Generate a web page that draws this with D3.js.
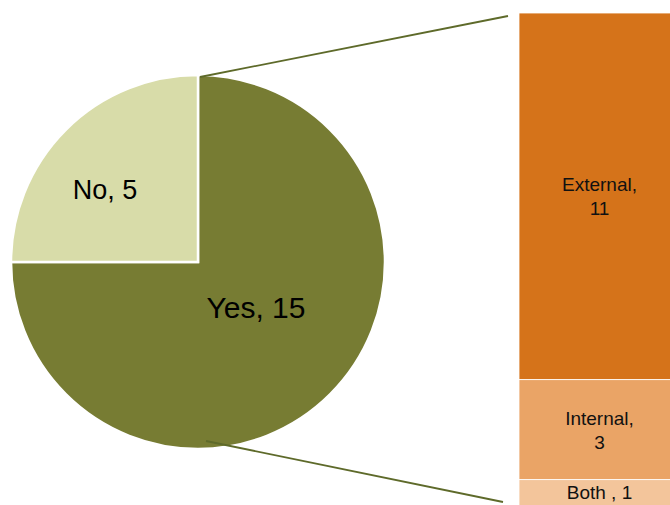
<!DOCTYPE html>
<html>
<head>
<meta charset="utf-8">
<script src="https://cdn.jsdelivr.net/npm/d3@7"></script>
<style>
  html, body { margin: 0; padding: 0; background: #fff; }
  svg { display: block; font-family: "Liberation Sans", Arial, sans-serif; }
</style>
</head>
<body>
<svg id="chart" width="670" height="505"></svg>
<script>
// Main pie: answers
const pieCategories = ["Yes", "No"];
const pieValues = [15, 5];
const pieColors = ["#777C33", "#D8DCA9"];

// Breakdown of "Yes" shown as a stacked bar
const barCategories = ["External", "Internal", "Both"];
const barValues = [11, 3, 1];
const barColors = ["#D5731A", "#EAA466", "#F3C59B"];

const svg = d3.select("#chart");

// ---- pie ----
const cx = 198, cy = 262, R = 187;
const pie = d3.pie().sort(null).value(d => d.v).startAngle(0).endAngle(2 * Math.PI);
const arcs = pie(pieCategories.map((c, i) => ({ c, v: pieValues[i], col: pieColors[i] })));
const arc = d3.arc().innerRadius(0).outerRadius(R);

const pg = svg.append("g").attr("transform", `translate(${cx},${cy})`);
pg.selectAll("path").data(arcs).join("path")
  .attr("d", arc)
  .attr("fill", d => d.data.col)
  .attr("stroke", "#fff")
  .attr("stroke-width", 2.5)
  .attr("stroke-linejoin", "miter");

// label anchors, relative to the pie centre
const labelPos = { Yes: [58, 56], No: [-93, -63] };
const labelSize = { Yes: 30, No: 27 };
pg.selectAll("text.pl").data(arcs).join("text")
  .attr("class", "pl")
  .attr("x", d => labelPos[d.data.c][0])
  .attr("y", d => labelPos[d.data.c][1])
  .attr("text-anchor", "middle")
  .attr("font-size", d => labelSize[d.data.c])
  .attr("fill", "#000")
  .text(d => `${d.data.c}, ${d.data.v}`);

// ---- stacked bar ----
const bx = 519, bw = 162;
const total = d3.sum(barValues);
const y = d3.scaleLinear().domain([0, total]).range([13, 513]);
let acc = 0;
const segs = barCategories.map((c, i) => {
  const s = { c, v: barValues[i], col: barColors[i], y0: acc, y1: acc + barValues[i] };
  acc += barValues[i];
  return s;
});

const bg = svg.append("g");
bg.selectAll("rect").data(segs).join("rect")
  .attr("x", bx)
  .attr("y", d => y(d.y0))
  .attr("width", bw)
  .attr("height", d => y(d.y1) - y(d.y0))
  .attr("fill", d => d.col)
  .attr("stroke", "#fff")
  .attr("stroke-width", 0.8);

const labelLines = { External: ["External,", "11"], Internal: ["Internal,", "3"], Both: ["Both , 1"] };
// the last segment runs past the bottom edge, so its label sits a little higher
const labelShift = { External: 7, Internal: 7, Both: 3 };
bg.selectAll("text.bl").data(segs).join("text")
  .attr("class", "bl")
  .attr("text-anchor", "middle")
  .attr("font-size", 19)
  .attr("fill", "#111")
  .each(function (d) {
    const lines = labelLines[d.c];
    const mid = (y(d.y0) + y(d.y1)) / 2;
    const lh = 24;
    const first = mid - (lines.length - 1) * lh / 2 + labelShift[d.c];
    d3.select(this).selectAll("tspan").data(lines).join("tspan")
      .attr("x", bx + bw / 2 - 0.5)
      .attr("y", (t, k) => first + k * lh)
      .text(t => t);
  });

// ---- connector lines from the "Yes" slice to the bar ----
const lines = [
  [[cx + 2, cy - R + 2], [bx - 11, y(0) + 3]],
  [[cx + 8, cy + R - 8], [bx - 16, y(total) - 11]]
];
svg.selectAll("line.conn").data(lines).join("line")
  .attr("class", "conn")
  .attr("x1", d => d[0][0]).attr("y1", d => d[0][1])
  .attr("x2", d => d[1][0]).attr("y2", d => d[1][1])
  .attr("stroke", "#5E6A2A")
  .attr("stroke-width", 1.8);
</script>
</body>
</html>
